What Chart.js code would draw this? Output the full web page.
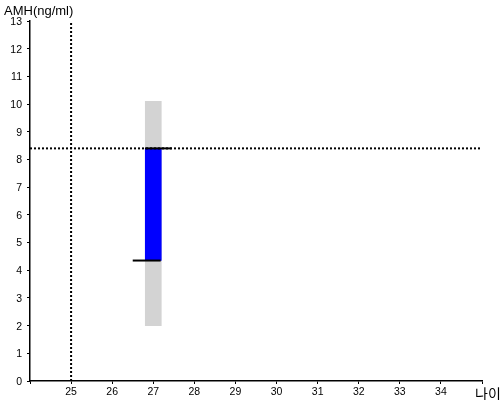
<!DOCTYPE html>
<html>
<head>
<meta charset="utf-8">
<script src="https://cdn.jsdelivr.net/npm/chart.js@4"></script>
<style>
  html, body { margin: 0; padding: 0; background: #fff; }
  #wrap { width: 500px; height: 400px; }
</style>
</head>
<body>
<div id="wrap"><canvas id="chart" width="500" height="400"></canvas></div>
<script>
// ---- data ----
const ageValue = 27;             // 나이
const amhRange = [2.0, 10.1];    // gray reference band
const amhBar = [4.35, 8.4];      // blue bar
const upperLine = [26.8, 27.45]; // black segment at amhBar top
const lowerLine = [26.5, 27.18]; // black segment at amhBar bottom
const refAge = 25;               // vertical dotted line
const refAmh = 8.4;              // horizontal dotted line
const xTicks = [25, 26, 27, 28, 29, 30, 31, 32, 33, 34];
const yTicks = [0, 1, 2, 3, 4, 5, 6, 7, 8, 9, 10, 11, 12, 13];

const labelsPlugin = {
  id: 'labels',
  afterDraw(c) {
    const ctx = c.ctx;
    ctx.save();
    ctx.fillStyle = '#000';
    ctx.textBaseline = 'alphabetic';
    ctx.font = '13px "Liberation Sans", Arial, sans-serif';
    ctx.textAlign = 'left';
    ctx.fillText('AMH(ng/ml)', 4, 15);
    ctx.font = '14px "Noto Sans CJK KR", sans-serif';
    ctx.fillText('나이', 475, 399);
    ctx.restore();
  }
};

const tickFont = { family: '"Liberation Sans", Arial, sans-serif', size: 10.5 };

new Chart(document.getElementById('chart'), {
  type: 'bar',
  data: {
    datasets: [
      {
        type: 'line', data: [{x: 24, y: refAmh}, {x: 35, y: refAmh}],
        borderColor: '#000', borderWidth: 2, borderDash: [2, 2],
        pointRadius: 0, order: 0
      },
      {
        type: 'line', data: [{x: refAge, y: 0}, {x: refAge, y: 13}],
        borderColor: '#000', borderWidth: 2, borderDash: [2, 2],
        pointRadius: 0, order: 0
      },
      {
        type: 'line', data: [{x: upperLine[0], y: amhBar[1]}, {x: upperLine[1], y: amhBar[1]}],
        borderColor: '#000', borderWidth: 2, pointRadius: 0, order: 0
      },
      {
        type: 'line', data: [{x: lowerLine[0], y: amhBar[0]}, {x: lowerLine[1], y: amhBar[0]}],
        borderColor: '#000', borderWidth: 2, pointRadius: 0, order: 0
      },
      {
        data: [{x: ageValue, y: amhBar}],
        backgroundColor: '#0000ff', barThickness: 16, grouped: false, order: 1
      },
      {
        data: [{x: ageValue, y: amhRange}],
        backgroundColor: '#d3d3d3', barThickness: 16, grouped: false, order: 2
      }
    ]
  },
  options: {
    responsive: false,
    animation: false,
    layout: { padding: { top: 21, right: 18, left: 0, bottom: 0 } },
    plugins: { legend: { display: false }, tooltip: { enabled: false } },
    scales: {
      x: {
        type: 'linear', min: 24, max: 35, offset: false,
        afterBuildTicks: s => { s.ticks = [24].concat(xTicks, [35]).map(v => ({ value: v })); },
        afterFit: s => { s.height = 19; },
        border: { display: true, color: '#000', width: 1.5 },
        grid: { display: true, drawOnChartArea: false, drawTicks: true, tickLength: 3, color: '#000', offset: false },
        ticks: {
          color: '#000', font: tickFont, padding: 2, maxRotation: 0, autoSkip: false,
          callback: v => xTicks.includes(v) ? String(v) : ''
        }
      },
      y: {
        type: 'linear', min: 0, max: 13,
        afterBuildTicks: s => { s.ticks = yTicks.map(v => ({ value: v })); },
        afterFit: s => { s.width = 30; },
        border: { display: true, color: '#000', width: 1.5 },
        grid: { display: true, drawOnChartArea: false, drawTicks: true, tickLength: 3, color: '#000' },
        ticks: { color: '#000', font: tickFont, padding: 5, labelOffset: 1, autoSkip: false }
      }
    }
  },
  plugins: [labelsPlugin]
});
</script>
</body>
</html>
